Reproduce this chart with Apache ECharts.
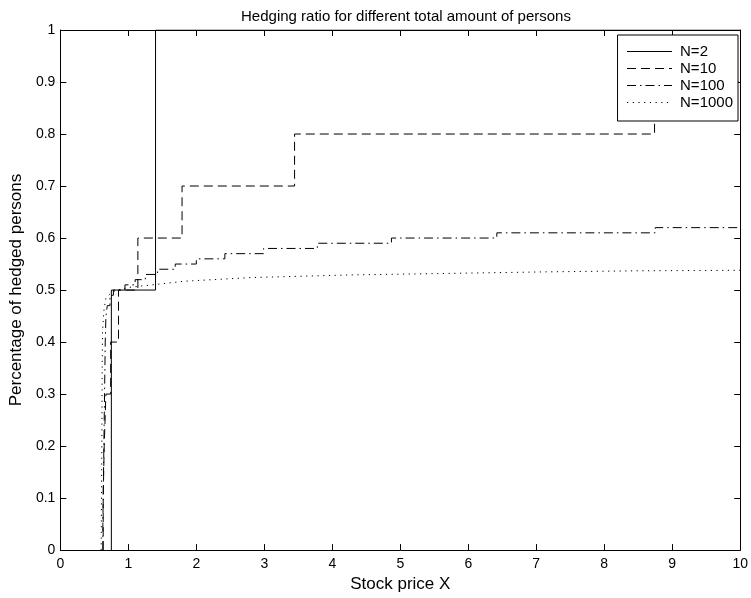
<!DOCTYPE html>
<html lang="en">
<head>
    <meta charset="UTF-8">
    <title>Hedging ratio</title>
    <script src="https://cdn.jsdelivr.net/npm/echarts@6/dist/echarts.min.js"></script>
    <style>
        html, body { margin: 0; padding: 0; background: #fff; }
        #main { width: 751px; height: 598px; }
    </style>
</head>
<body>
    <div id="main"></div>
    <script>
        // stock price where each step starts, and the level after it
        const n2Steps = [0.75, 1.40];
        const n2Levels = [0.5, 1.0];

        const n10Steps = [0.63, 0.645, 0.67, 0.74, 0.855, 1.14, 1.79, 3.445, 8.74];
        const n10Levels = [0.1, 0.2, 0.3, 0.4, 0.5, 0.6, 0.7, 0.8, 0.9];

        const n100Steps = [0.625, 0.63, 0.635, 0.64, 0.645, 0.65, 0.655, 0.66, 0.67, 0.69, 0.73, 0.78,
            0.95, 1.10, 1.25, 1.43, 1.69, 2.00, 2.42, 2.99, 3.78, 4.87, 6.42, 8.75];
        const n100Levels = [0.05, 0.10, 0.15, 0.20, 0.25, 0.30, 0.35, 0.40, 0.45, 0.47, 0.49, 0.50,
            0.51, 0.52, 0.53, 0.54, 0.55, 0.56, 0.57, 0.58, 0.59, 0.60, 0.61, 0.62];

        // N=1000 steps are too fine to see, so it is kept as a curve
        const n1000X = [0.60, 0.61, 0.615, 0.62, 0.64, 0.67, 0.75, 0.85, 1.0, 1.42, 1.83, 2.8, 4.25, 5.71, 7.16, 8.5, 10];
        const n1000Y = [0, 0.2, 0.35, 0.42, 0.46, 0.485, 0.495, 0.5, 0.505, 0.511, 0.517, 0.524, 0.529, 0.532, 0.535, 0.537, 0.538];

        const xTicks = [0, 1, 2, 3, 4, 5, 6, 7, 8, 9, 10];
        const yTicks = [0, 0.1, 0.2, 0.3, 0.4, 0.5, 0.6, 0.7, 0.8, 0.9, 1];

        const xMax = 10;

        function stairs(steps, levels) {
            const pts = [[steps[0], 0]];
            let prev = 0;
            steps.forEach((x, i) => {
                pts.push([x, prev]);
                pts.push([x, levels[i]]);
                prev = levels[i];
            });
            pts.push([xMax, prev]);
            return pts;
        }

        const font = '"Liberation Sans", Arial, Helvetica, sans-serif';
        const chart = echarts.init(document.getElementById('main'));

        const lineSeries = (name, data, type) => ({
            name: name,
            type: 'line',
            data: data,
            symbol: 'none',
            animation: false,
            lineStyle: { color: '#000', width: 1, type: type },
            itemStyle: { color: '#000' }
        });

        const axisCommon = {
            type: 'value',
            splitLine: { show: false },
            axisLine: { show: true, onZero: false, lineStyle: { color: '#000', width: 1 } },
            axisTick: { show: true, inside: true, length: 6, lineStyle: { color: '#000' } }
        };

        chart.setOption({
            animation: false,
            textStyle: { fontFamily: font },
            title: {
                text: 'Hedging ratio for different total amount of persons',
                left: 401,
                textAlign: 'center',
                top: 4,
                textStyle: { fontSize: 15, fontWeight: 'normal', color: '#000', fontFamily: font }
            },
            legend: {
                orient: 'vertical',
                right: 13,
                top: 35,
                itemWidth: 45,
                itemHeight: 14,
                itemGap: 2,
                padding: [9, 5, 11, 9],
                borderColor: '#000',
                borderWidth: 1,
                borderRadius: 0,
                backgroundColor: '#fff',
                itemStyle: { color: 'rgba(0,0,0,0)', borderWidth: 0, opacity: 0 },
                lineStyle: { width: 1 },
                textStyle: { fontSize: 15, color: '#000', fontFamily: font, padding: [0, 0, 0, 3] },
                data: ['N=2', 'N=10', 'N=100', 'N=1000']
            },
            grid: { left: 57, right: 6, top: 30, bottom: 40 },
            xAxis: [
                Object.assign({}, axisCommon, {
                    min: 0, max: xTicks[xTicks.length - 1], interval: 1,
                    position: 'bottom',
                    name: 'Stock price X',
                    nameLocation: 'middle',
                    nameGap: 22,
                    nameTextStyle: { fontSize: 17, color: '#000', fontFamily: font },
                    axisLabel: { color: '#000', fontSize: 14, margin: 7, fontFamily: font }
                }),
                Object.assign({}, axisCommon, {
                    min: 0, max: xTicks[xTicks.length - 1], interval: 1,
                    position: 'top',
                    axisLabel: { show: false }
                })
            ],
            yAxis: [
                Object.assign({}, axisCommon, {
                    min: 0, max: yTicks[yTicks.length - 1], interval: 0.1,
                    position: 'left',
                    name: 'Percentage of hedged persons',
                    nameLocation: 'middle',
                    nameGap: 33,
                    nameTextStyle: { fontSize: 17, color: '#000', fontFamily: font },
                    axisLabel: { color: '#000', fontSize: 14, margin: 5, fontFamily: font }
                }),
                Object.assign({}, axisCommon, {
                    min: 0, max: yTicks[yTicks.length - 1], interval: 0.1,
                    position: 'right',
                    axisLabel: { show: false }
                })
            ],
            series: [
                lineSeries('N=2', stairs(n2Steps, n2Levels), 'solid'),
                lineSeries('N=10', stairs(n10Steps, n10Levels), [9, 5]),
                lineSeries('N=100', stairs(n100Steps, n100Levels), [9, 4, 1.5, 4]),
                lineSeries('N=1000', n1000X.map((x, i) => [x, n1000Y[i]]), [1.2, 4.5])
            ]
        });

        window.addEventListener('resize', function () {
            chart.resize();
        });
    </script>
</body>
</html>
